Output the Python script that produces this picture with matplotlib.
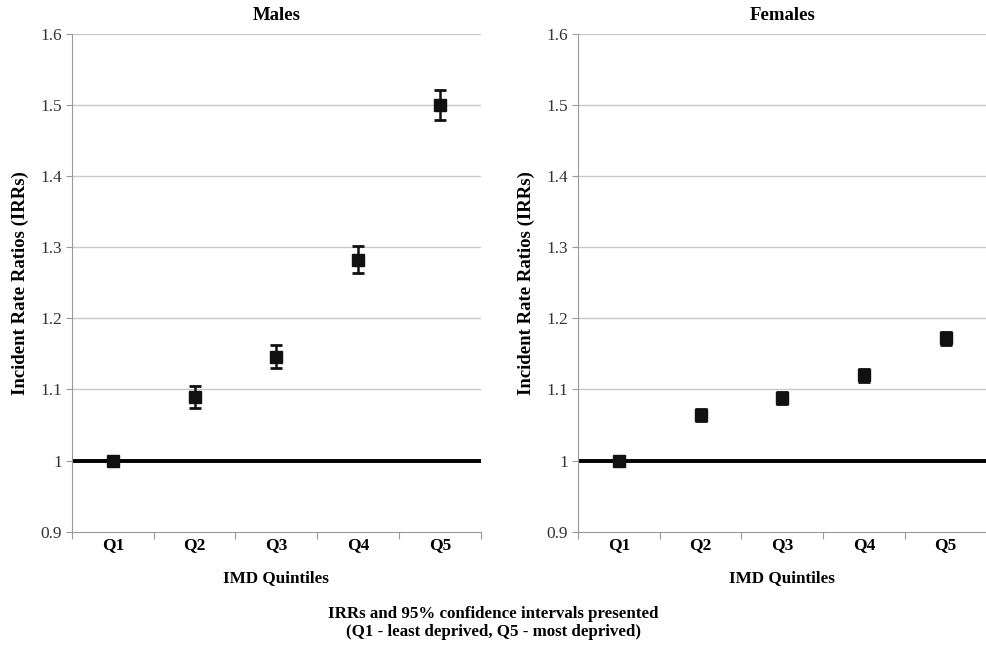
import matplotlib.pyplot as plt
from matplotlib.ticker import FixedLocator, NullFormatter

plt.rcParams['font.family'] = ['Liberation Serif', 'DejaVu Serif']

# ----------------------------
# Data
# ----------------------------
quintiles = ["Q1", "Q2", "Q3", "Q4", "Q5"]

male_irr = [1.0, 1.09, 1.146, 1.282, 1.50]
male_lo = [1.0, 1.074, 1.130, 1.264, 1.479]
male_hi = [1.0, 1.105, 1.162, 1.301, 1.521]

female_irr = [1.0, 1.064, 1.088, 1.120, 1.172]
female_lo = [1.0, 1.056, 1.080, 1.111, 1.163]
female_hi = [1.0, 1.072, 1.096, 1.129, 1.181]

y_ticks = [0.9, 1.0, 1.1, 1.2, 1.3, 1.4, 1.5, 1.6]
y_labels = ["0.9", "1", "1.1", "1.2", "1.3", "1.4", "1.5", "1.6"]

fig = plt.figure(figsize=(9.87, 6.47), dpi=100)
ax_m = fig.add_axes([0.073, 0.178, 0.414, 0.770])
ax_f = fig.add_axes([0.5856, 0.178, 0.414, 0.770])


def draw_panel(ax, title, irr, lo, hi, cap):
    x = list(range(1, len(quintiles) + 1))
    err_low = [v - l for v, l in zip(irr, lo)]
    err_high = [h - v for v, h in zip(irr, hi)]
    for yt in y_ticks[1:]:
        if yt != 1.0:
            ax.axhline(yt, color="#c8c8c8", linewidth=1, zorder=0)
    ax.axhline(1.0, color="black", linewidth=2.8, zorder=1)
    ax.errorbar(x, irr, yerr=[err_low, err_high], fmt="s", color="#111111",
                markersize=9, ecolor="#111111", elinewidth=1.8, capsize=cap,
                capthick=2.0, zorder=3)
    ax.set_xlim(0.5, 5.5)
    ax.set_ylim(0.9, 1.6)
    ax.set_yticks(y_ticks)
    ax.set_yticklabels(y_labels, fontsize=12.5, color="#333333")
    ax.xaxis.set_major_locator(FixedLocator([0.5, 1.5, 2.5, 3.5, 4.5, 5.5]))
    ax.xaxis.set_major_formatter(NullFormatter())
    ax.xaxis.set_minor_locator(FixedLocator(x))
    ax.set_xticklabels(quintiles, minor=True, fontsize=12.5, fontweight="bold")
    ax.tick_params(axis="x", which="minor", length=0, pad=4)
    ax.tick_params(axis="x", which="major", length=5, color="#999999")
    ax.tick_params(axis="y", length=4, color="#999999", pad=3)
    for s in ["top", "right"]:
        ax.spines[s].set_visible(False)
    for s in ["left", "bottom"]:
        ax.spines[s].set_color("#999999")
    ax.set_title(title, fontsize=13.5, fontweight="bold", pad=10)
    ax.set_xlabel("IMD Quintiles", fontsize=12.3, fontweight="bold", labelpad=12)
    ax.set_ylabel("Incident Rate Ratios (IRRs)", fontsize=13.5, fontweight="bold", labelpad=8)


draw_panel(ax_m, "Males", male_irr, male_lo, male_hi, 4)
draw_panel(ax_f, "Females", female_irr, female_lo, female_hi, 4.5)

fig.text(0.5, 0.037, "IRRs and 95% confidence intervals presented\n(Q1 - least deprived, Q5 - most deprived)",
         ha="center", va="center", fontsize=12.2, fontweight="bold", linespacing=1.15)

fig.savefig("out.png", dpi=100)
